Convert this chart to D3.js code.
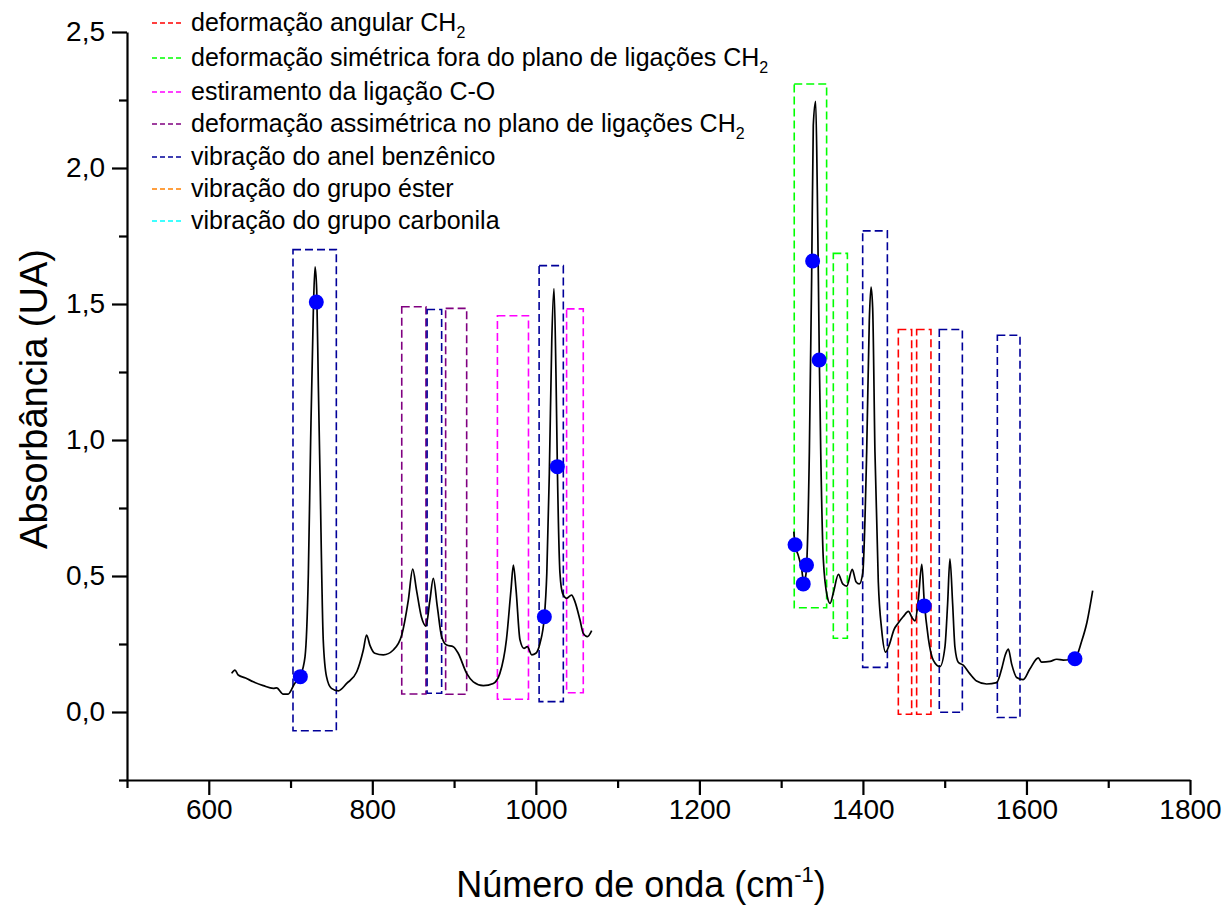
<!DOCTYPE html>
<html><head><meta charset="utf-8">
<script src="https://cdn.jsdelivr.net/npm/d3@7"></script>
<style>
body{margin:0;background:#fff}
svg text{font-family:"Liberation Sans",Arial,Helvetica,sans-serif;fill:#000}
</style>
</head><body>
<svg id="chart" width="1223" height="905"></svg>
<script>
// ---------- DATA ----------
const wavenumber1 = [628,632,636,645,654.5,666.7,679,683,691,697,705,711.6,717.7,721.8,724.6,728,730,732,734,736,740,744,750,758.5,768.7,781,789,793,797,803,813.5,825.7,836,844,849.4,854,860,865.6,870.4,874.6,879.5,884.8,891,899,905,915.4,923.5,935.8,948,956,964,969.6,972.5,975.8,980.6,985.5,989.6,995,1000,1005,1010.4,1013.4,1016.5,1019.5,1022.2,1024.6,1026.3,1029.5,1032.7,1037.6,1043.7,1047.9,1054,1058,1063,1068.3];
const absorb1 =    [0.142,0.154,0.136,0.125,0.111,0.097,0.087,0.089,0.066,0.066,0.105,0.13,0.203,0.51,1.0,1.49,1.637,1.55,1.2,0.88,0.265,0.13,0.087,0.078,0.105,0.148,0.228,0.283,0.246,0.216,0.21,0.228,0.283,0.41,0.525,0.449,0.35,0.316,0.41,0.491,0.387,0.277,0.246,0.24,0.216,0.142,0.111,0.097,0.105,0.142,0.265,0.449,0.54,0.449,0.265,0.234,0.24,0.21,0.216,0.252,0.35,0.51,0.878,1.368,1.557,1.245,0.902,0.51,0.436,0.418,0.43,0.405,0.338,0.289,0.277,0.299];

const wavenumber2 = [1315.5,1317,1321,1325,1327.5,1330,1331.5,1334.5,1337.3,1339.3,1342.2,1344.2,1346.7,1348.4,1351.6,1356.5,1359.8,1363.9,1370,1375.3,1380.2,1387,1391.5,1395.6,1399.8,1404.6,1407.8,1409.9,1411.9,1414.7,1418.8,1422.9,1427.8,1432.2,1438,1443.2,1449.4,1455.5,1460.9,1463.7,1467.8,1472,1474.8,1480,1486,1494.2,1500.3,1503.6,1506.4,1509.7,1512.5,1516.6,1522.7,1530.9,1539,1551.3,1563.6,1569.7,1573.8,1577.8,1582,1588,1596,1604.3,1614.5,1618.6,1628.8,1637,1645,1652,1659.3,1667.5,1674,1681];
const absorb2 =    [0.663,0.615,0.575,0.527,0.48,0.5,0.56,0.958,1.598,2.157,2.245,1.918,1.294,0.958,0.559,0.423,0.399,0.439,0.506,0.471,0.463,0.524,0.479,0.471,0.511,0.958,1.438,1.562,1.486,0.958,0.479,0.303,0.22,0.247,0.303,0.327,0.351,0.37,0.343,0.335,0.415,0.543,0.415,0.271,0.191,0.167,0.239,0.399,0.563,0.399,0.239,0.183,0.172,0.14,0.114,0.103,0.108,0.159,0.207,0.231,0.175,0.127,0.119,0.159,0.199,0.183,0.186,0.194,0.191,0.192,0.196,0.26,0.33,0.446];

const dotX = [712,731.5,1010.4,1026.3,1317,1327,1331,1338.5,1346.5,1475,1659.3];
const dotY = [0.13,1.507,0.35,0.902,0.615,0.471,0.54,1.658,1.294,0.39,0.196];

// band boxes: legend index, start, end, top, bottom
const boxType   = [4,3,4,3,2,4,2,1,1,4,0,0,4,4];
const boxStart  = [703,836,867,889.7,953,1004,1037.6,1316,1363.8,1399.7,1443.3,1465.7,1493.4,1564.4];
const boxEnd    = [756,865.6,884.8,915.4,991,1033.6,1058,1355.6,1381,1429.9,1459.6,1483.2,1521.6,1592.1];
const boxTop    = [1.70,1.49,1.48,1.484,1.457,1.641,1.482,2.309,1.686,1.769,1.406,1.406,1.406,1.385];
const boxBottom = [-0.069,0.066,0.069,0.065,0.047,0.038,0.071,0.383,0.271,0.164,-0.008,-0.008,-0.001,-0.02];

const legendLabels = ["deformação angular CH","deformação simétrica fora do plano de ligações CH","estiramento da ligação C-O","deformação assimétrica no plano de ligações CH","vibração do anel benzênico","vibração do grupo éster","vibração do grupo carbonila"];
const legendSub = ["2","2","","2","","",""];
const legendColors = ["#ff0000","#00ff00","#ff00ff","#800080","#000099","#ff8000","#00ffff"];

const xTicks = [600,800,1000,1200,1400,1600,1800];
const xMinor = [500,700,900,1100,1300,1500,1700];
const yTicks = [0,0.5,1,1.5,2,2.5];
const yMinor = [-0.25,0.25,0.75,1.25,1.75,2.25];

// ---------- CHART ----------
const svg = d3.select("#chart");
const x = d3.scaleLinear().domain([500,1800]).range([127,1190]);
const y = d3.scaleLinear().domain([-0.25,2.5]).range([780,32]);

// boxes
svg.append("g").selectAll("rect").data(boxStart.map((s,i)=>i)).join("rect")
  .attr("x", i=>x(boxStart[i])).attr("width", i=>x(boxEnd[i])-x(boxStart[i]))
  .attr("y", i=>y(boxTop[i])).attr("height", i=>y(boxBottom[i])-y(boxTop[i]))
  .attr("fill","none").attr("stroke", i=>legendColors[boxType[i]])
  .attr("stroke-width",1.6).attr("stroke-dasharray","8,4");

// spectrum
const line = d3.line().x(d=>x(d[0])).y(d=>y(d[1])).curve(d3.curveMonotoneX);
svg.append("path").datum(wavenumber1.map((w,i)=>[w,absorb1[i]]))
  .attr("d",line).attr("fill","none").attr("stroke","#000").attr("stroke-width",1.7);
svg.append("path").datum(wavenumber2.map((w,i)=>[w,absorb2[i]]))
  .attr("d",line).attr("fill","none").attr("stroke","#000").attr("stroke-width",1.7);

// dots
svg.append("g").selectAll("circle").data(dotX.map((d,i)=>i)).join("circle")
  .attr("cx", i=>x(dotX[i])).attr("cy", i=>y(dotY[i])).attr("r",7.5).attr("fill","#0000ff");

// axes
const fontTick = "28px";
svg.append("g").attr("transform","translate(0,780)")
  .call(d3.axisBottom(x).tickValues(xTicks).tickSize(15).tickSizeOuter(0).tickPadding(4).tickFormat(d3.format("d")));
svg.append("g").attr("transform","translate(0,780)")
  .call(d3.axisBottom(x).tickValues(xMinor).tickSize(8).tickFormat(""))
  .select(".domain").remove();
svg.append("g").attr("transform","translate(127,0)")
  .call(d3.axisLeft(y).tickValues(yTicks).tickSize(15).tickSizeOuter(0).tickPadding(7).tickFormat(d=>d.toFixed(1).replace(".",",")));
svg.append("g").attr("transform","translate(127,0)")
  .call(d3.axisLeft(y).tickValues(yMinor).tickSize(8).tickFormat(""))
  .select(".domain").remove();
svg.selectAll(".domain").attr("stroke","#000").attr("stroke-width",2.2);
svg.selectAll(".tick line").attr("stroke","#000").attr("stroke-width",2.2);
svg.selectAll(".tick text").style("font-size",fontTick).attr("font-family",null);

// axis titles
svg.append("text").attr("transform","translate(47,399) rotate(-90)")
  .attr("text-anchor","middle").style("font-size","38px").text("Absorbância (UA)");
const xt = svg.append("text").attr("x",641).attr("y",897).attr("text-anchor","middle").style("font-size","36px");
xt.append("tspan").text("Número de onda (cm");
xt.append("tspan").attr("dy",-15).style("font-size","22px").text("-1");
xt.append("tspan").attr("dy",15).text(")");

// legend
const legendY = [23,58,92,124,157,189,221];
const lg = svg.append("g");
legendLabels.forEach((lab,i)=>{
  lg.append("line").attr("x1",152).attr("x2",183).attr("y1",legendY[i]).attr("y2",legendY[i])
    .attr("stroke",legendColors[i]).attr("stroke-width",1.6).attr("stroke-dasharray","5,3");
  const t = lg.append("text").attr("x",191).attr("y",legendY[i]+8).style("font-size","25px");
  t.append("tspan").text(lab);
  if (legendSub[i]) t.append("tspan").attr("dy",7).style("font-size","16px").text(legendSub[i]);
});
</script>
</body></html>
